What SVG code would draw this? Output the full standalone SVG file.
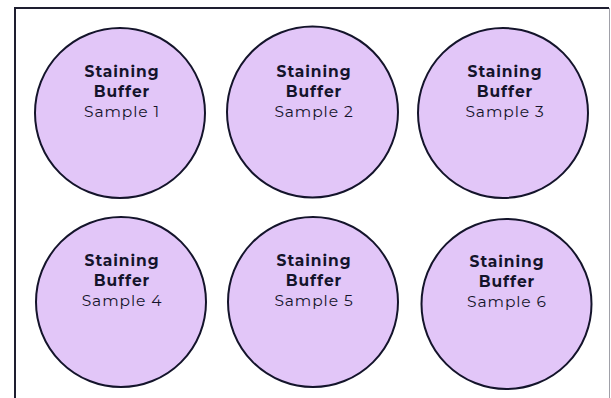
<svg xmlns="http://www.w3.org/2000/svg" width="611" height="398" viewBox="0 0 611 398">
<style>
.well{fill:#e2c6f8;stroke:#14142b;stroke-width:2}
.t{font-family:Montserrat,"Noto Sans",Inter,sans-serif;font-size:15.5px;fill:#14142b;text-anchor:middle;letter-spacing:0.9px}
.b{font-weight:700}
.r{font-weight:400}
</style>
<rect x="0" y="0" width="611" height="398" fill="#ffffff"/>
<path d="M15 400 V8 H609" fill="none" stroke="#1e1e30" stroke-width="2"/>
<line x1="609.5" y1="8" x2="609.5" y2="398" stroke="#a0a0a8" stroke-width="1"/>
<g id="connectors"></g>
<g id="sample1"><circle class="well" cx="120" cy="113" r="85"/><text class="t b" x="122" y="77">Staining</text><text class="t b" x="122" y="97">Buffer</text><text class="t r" x="122" y="117">Sample 1</text></g>
<g id="sample2"><circle class="well" cx="312.5" cy="112" r="85.5"/><text class="t b" x="314" y="77">Staining</text><text class="t b" x="314" y="97">Buffer</text><text class="t r" x="314" y="117">Sample 2</text></g>
<g id="sample3"><circle class="well" cx="503" cy="113" r="85"/><text class="t b" x="505" y="77">Staining</text><text class="t b" x="505" y="97">Buffer</text><text class="t r" x="505" y="117">Sample 3</text></g>
<g id="sample4"><circle class="well" cx="121" cy="302" r="85"/><text class="t b" x="122" y="266">Staining</text><text class="t b" x="122" y="286">Buffer</text><text class="t r" x="122" y="306">Sample 4</text></g>
<g id="sample5"><circle class="well" cx="313" cy="302" r="85"/><text class="t b" x="314" y="266">Staining</text><text class="t b" x="314" y="286">Buffer</text><text class="t r" x="314" y="306">Sample 5</text></g>
<g id="sample6"><circle class="well" cx="506.5" cy="304" r="85"/><text class="t b" x="507" y="267">Staining</text><text class="t b" x="507" y="287">Buffer</text><text class="t r" x="507" y="307">Sample 6</text></g>
</svg>
